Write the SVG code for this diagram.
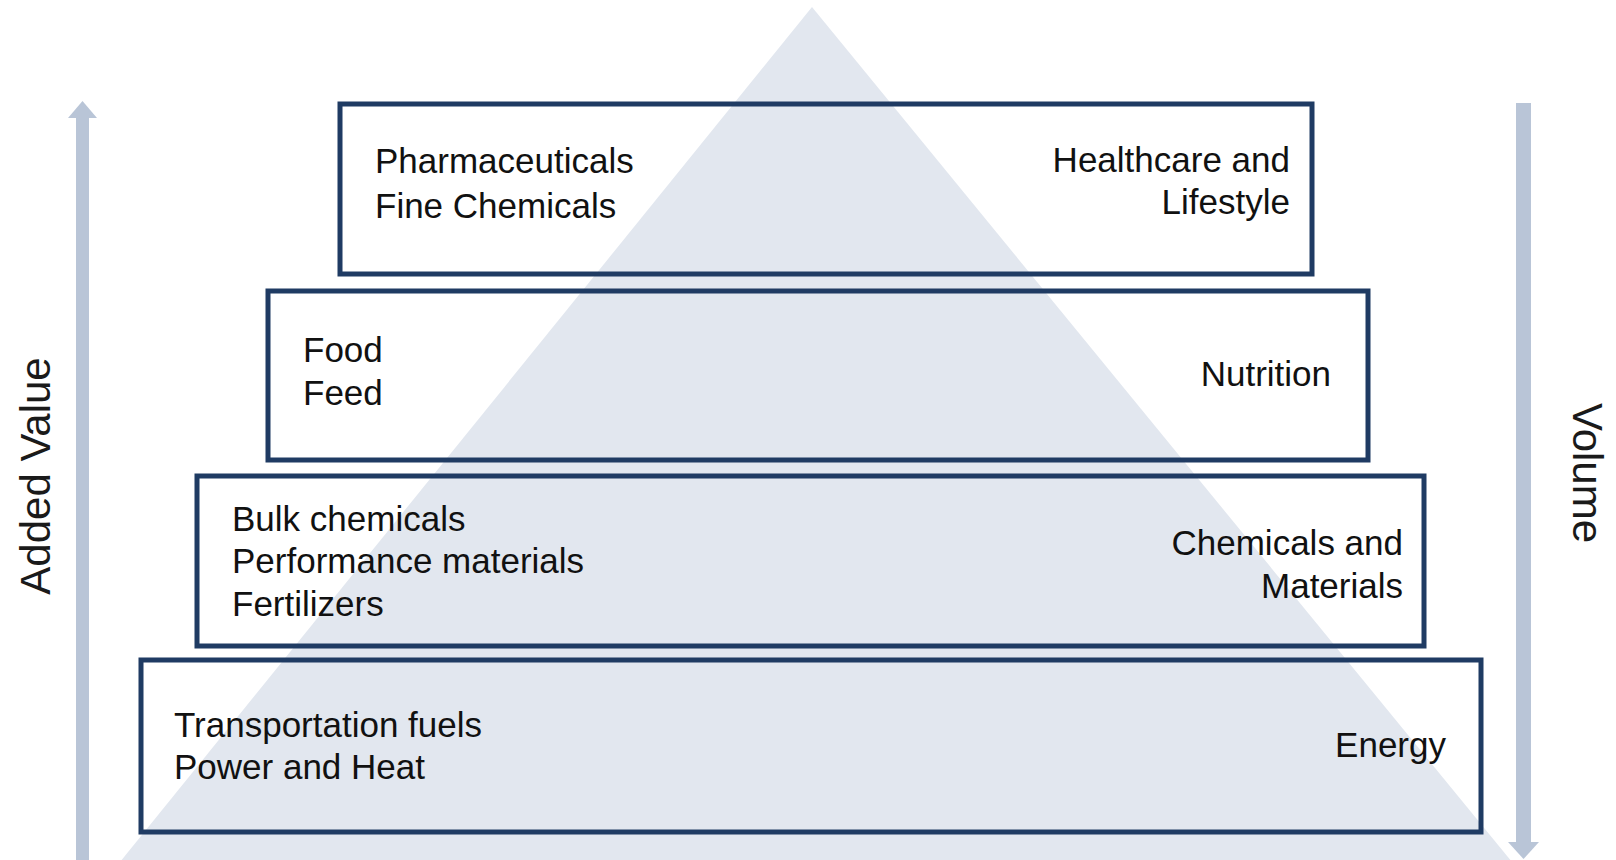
<svg xmlns="http://www.w3.org/2000/svg" width="1616" height="860" viewBox="0 0 1616 860">
<style>
.box{fill:none;stroke:#1f3b63;stroke-width:5}
.t{font-family:"Liberation Sans",Arial,sans-serif;font-size:35px;fill:#111}
.r{text-anchor:end}
.ax{font-family:"Liberation Sans",Arial,sans-serif;font-size:42px;fill:#1a1a1a;text-anchor:middle}
.arr{fill:#b9c5d7}
</style>
<rect x="0" y="0" width="1616" height="860" fill="#ffffff"/>
<polygon id="pyramid" points="812,7 1512,862 120,862" fill="#e2e7ef"/>
<g id="connectors">
<g id="added-value-arrow">
<rect class="arr" x="76" y="116" width="13" height="746"/>
<polygon class="arr" points="82.5,101 97,118 68,118"/>
</g>
<g id="volume-arrow">
<rect class="arr" x="1516" y="103" width="15" height="742"/>
<polygon class="arr" points="1523.5,859 1539,842 1508,842"/>
</g>
</g>
<g id="tier-healthcare">
<rect class="box" x="340" y="104" width="972" height="170"/>
<text class="t" x="375" y="173">Pharmaceuticals</text>
<text class="t" x="375" y="218">Fine Chemicals</text>
<text class="t r" x="1290" y="172">Healthcare and</text>
<text class="t r" x="1290" y="214">Lifestyle</text>
</g>
<g id="tier-nutrition">
<rect class="box" x="268" y="291" width="1100" height="169"/>
<text class="t" x="303" y="362">Food</text>
<text class="t" x="303" y="405">Feed</text>
<text class="t r" x="1331" y="386">Nutrition</text>
</g>
<g id="tier-chemicals">
<rect class="box" x="197" y="476" width="1227" height="170"/>
<text class="t" x="232" y="531">Bulk chemicals</text>
<text class="t" x="232" y="573">Performance materials</text>
<text class="t" x="232" y="616">Fertilizers</text>
<text class="t r" x="1403" y="555">Chemicals and</text>
<text class="t r" x="1403" y="598">Materials</text>
</g>
<g id="tier-energy">
<rect class="box" x="141" y="660" width="1340" height="172"/>
<text class="t" x="174" y="737">Transportation fuels</text>
<text class="t" x="174" y="779">Power and Heat</text>
<text class="t r" x="1446" y="757">Energy</text>
</g>
<g id="axis-labels">
<text class="ax" transform="translate(50,476) rotate(-90)">Added Value</text>
<text class="ax" transform="translate(1573,473) rotate(90)">Volume</text>
</g>
</svg>
